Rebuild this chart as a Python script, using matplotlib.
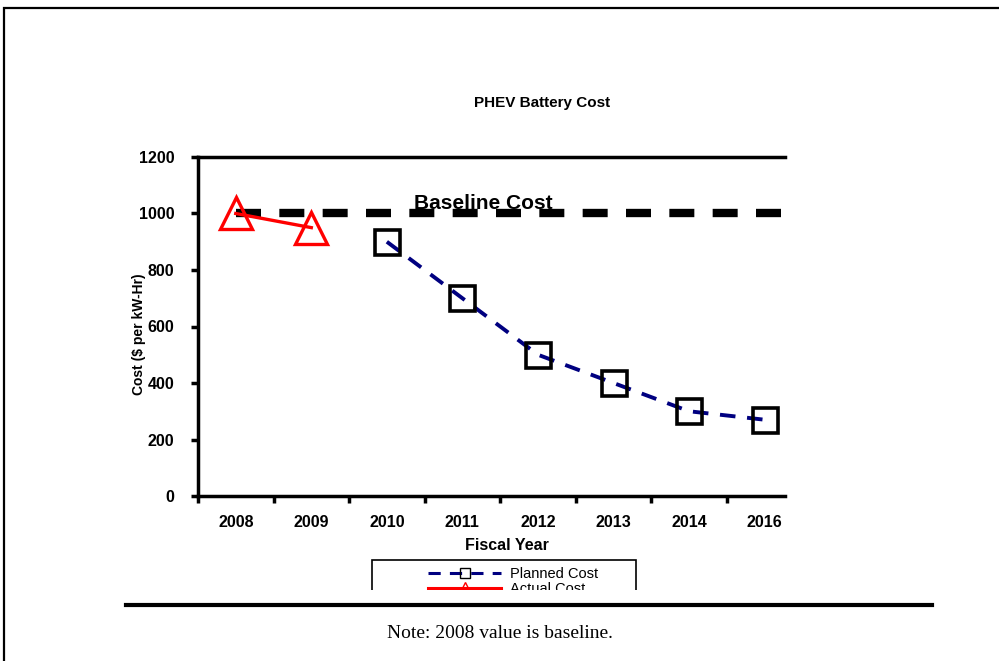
import matplotlib.pyplot as plt
from matplotlib.patches import Rectangle
from matplotlib.lines import Line2D

# data
years = ["2008", "2009", "2010", "2011", "2012", "2013", "2014", "2016"]
actual_years = ["2008", "2009"]
actual_cost = [1000, 950]
planned_years = ["2010", "2011", "2012", "2013", "2014", "2016"]
planned_cost = [900, 700, 500, 400, 300, 270]
baseline_cost = 1000
y_ticks = [0, 200, 400, 600, 800, 1000, 1200]

plt.rcParams['font.family'] = ['Liberation Sans', 'DejaVu Sans']

fig = plt.figure(figsize=(9.99, 6.61), dpi=100)
W, H = 999, 661

# outer frame of the page (runs off the right and bottom edges)
fig.patches.append(Rectangle((4 / W, -0.1), 1.2, 1 - 8 / H + 0.1, transform=fig.transFigure,
                             fill=False, edgecolor='black', linewidth=1.6, zorder=1))

ax = fig.add_axes([198 / W, 1 - 496 / H, 587 / W, (496 - 157) / H])

idx = {y: i for i, y in enumerate(years)}
px = [idx[y] for y in planned_years]
axx = [idx[y] for y in actual_years]

# baseline
ax.plot([0, 7.25], [baseline_cost, baseline_cost], color='black', linewidth=6,
        dashes=(3.0, 2.2), zorder=2)
ax.text(3.28, baseline_cost + 2, "Baseline Cost", fontsize=15, fontweight='bold',
        ha='center', va='bottom', zorder=3)

ax.plot(px, planned_cost, color='#000080', linewidth=2.8, dashes=(4, 3),
        marker='s', markersize=18, markerfacecolor='none', markeredgecolor='black',
        markeredgewidth=2.6, zorder=4)
ax.plot(axx, actual_cost, color='red', linewidth=2.4,
        marker='^', markersize=23, markerfacecolor='none', markeredgecolor='red',
        markeredgewidth=2.4, zorder=4)

ax.set_xlim(-0.5, 7.27)
ax.set_ylim(0, 1200)
ax.set_yticks(y_ticks)
ax.set_yticklabels([str(v) for v in y_ticks], fontsize=11.5, fontweight='bold')
ax.set_xticks([i + 0.5 for i in range(-1, 7)])
ax.set_xticklabels([])
ax.set_xticks(range(len(years)), minor=True)
ax.set_xticklabels(years, minor=True, fontsize=11.5, fontweight='bold')
ax.tick_params(axis='x', which='minor', length=0, pad=14)
ax.tick_params(axis='x', which='major', direction='out', length=5, width=2.5)
ax.tick_params(axis='y', direction='out', length=5, width=2.5, pad=12)

for s in ['left', 'bottom', 'top']:
    ax.spines[s].set_linewidth(2.5)
ax.spines['right'].set_visible(False)

ax.set_xlabel("Fiscal Year", fontsize=11.5, fontweight='bold')
ax.xaxis.set_label_coords((507 - 198) / 587, -(545 - 496) / (496 - 157))
ax.xaxis.label.set_va('center')
ax.set_ylabel("Cost ($ per kW-Hr)", fontsize=10, fontweight='bold')
ax.yaxis.set_label_coords(-(198 - 139) / 587, (496 - 334) / (496 - 157))
ax.yaxis.label.set_va('center')
fig.text(542 / W, 1 - 103 / H, "PHEV Battery Cost", fontsize=11, fontweight='bold',
         ha='center', va='center')

# legend, clipped at the bottom like the pasted chart
fig.patches.append(Rectangle((372 / W, 1 - 598 / H), (636 - 372) / W, 38 / H,
                             transform=fig.transFigure, fill=False,
                             edgecolor='black', linewidth=1.2, zorder=4))
handles = [Line2D([], [], color='#000080', linewidth=2.2, dashes=(4, 3), marker='s',
                  markersize=7, markerfacecolor='none', markeredgecolor='black'),
           Line2D([], [], color='red', linewidth=2.2, marker='^', markersize=8,
                  markerfacecolor='none', markeredgecolor='red')]
leg = fig.legend(handles, ["Planned Cost", "Actual Cost"], loc='upper center',
                 bbox_to_anchor=(513 / W, 1 - 558.5 / H), fontsize=10.5, frameon=False,
                 handlelength=5.0, borderpad=0.1, labelspacing=0.05, handletextpad=0.6)
leg.set_zorder(5)
fig.patches.append(Rectangle((300 / W, 1 - 603 / H), 400 / W, 13.5 / H,
                             transform=fig.transFigure, facecolor='white',
                             edgecolor='none', zorder=6))

# rule and note below the chart
fig.add_artist(Line2D([126 / W, 932 / W], [1 - 605 / H, 1 - 605 / H],
                      color='black', linewidth=3, zorder=7))
fig.text(500 / W, 1 - 634 / H, "Note: 2008 value is baseline.", fontsize=14,
         family=['Liberation Serif', 'DejaVu Serif'], ha='center', va='center')

fig.savefig("out.png", dpi=100)
